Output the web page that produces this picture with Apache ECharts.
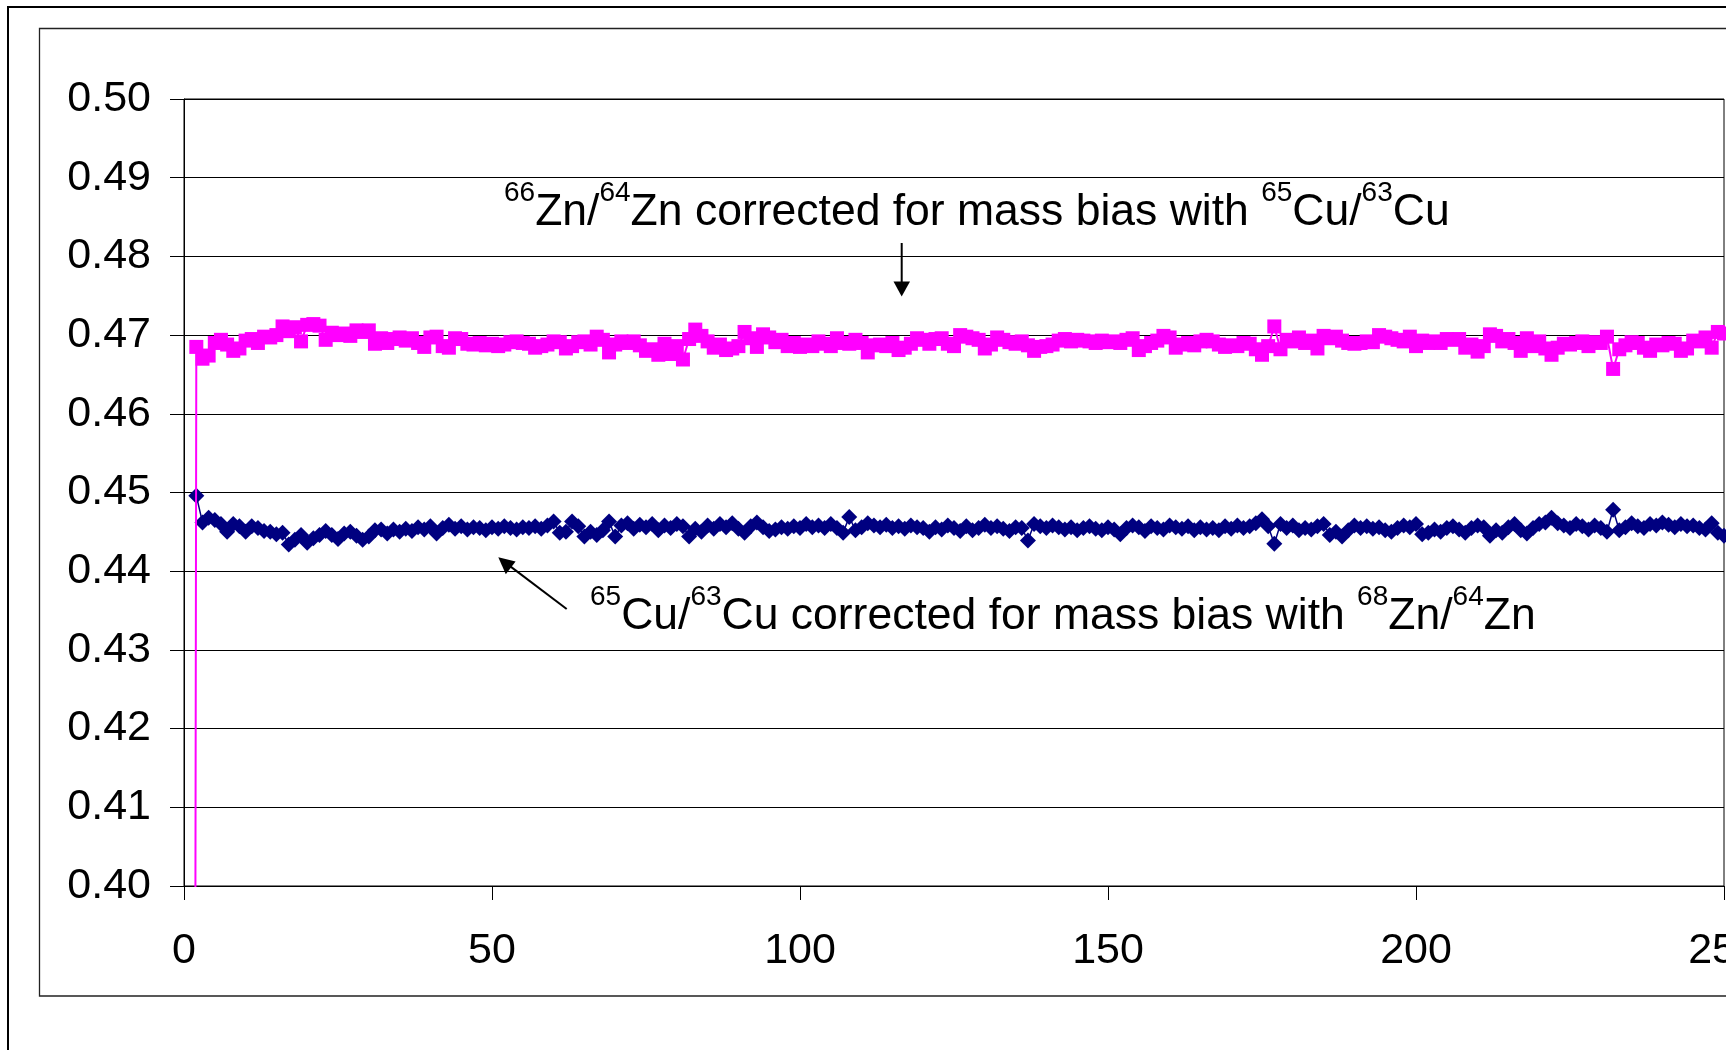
<!DOCTYPE html>
<html>
<head>
<meta charset="utf-8">
<script src="https://cdn.jsdelivr.net/npm/echarts@6/dist/echarts.min.js"></script>
<style>
  html, body { margin: 0; padding: 0; background: #fff; }
  #chart { width: 1726px; height: 1050px; }
</style>
</head>
<body>
<div id="chart"></div>
<script>
// ---- data (run number starts) ----
var pinkStart = 1;   // 66Zn/64Zn series first run
var blueStart = 2;   // 65Cu/63Cu series first run

// 66Zn/64Zn corrected for mass bias with 65Cu/63Cu (runs 1..250)
var znRatio = [
  0.0000,
  0.4685,0.4670,0.4674,0.4690,0.4694,0.4688,0.4680,0.4683,0.4693,0.4695,
  0.4690,0.4698,0.4697,0.4700,0.4711,0.4705,0.4710,0.4692,0.4713,0.4714,
  0.4712,0.4694,0.4703,0.4700,0.4702,0.4699,0.4706,0.4704,0.4706,0.4689,
  0.4696,0.4690,0.4695,0.4697,0.4693,0.4696,0.4690,0.4685,0.4697,0.4698,
  0.4686,0.4684,0.4696,0.4695,0.4689,0.4688,0.4690,0.4687,0.4689,0.4686,
  0.4688,0.4691,0.4692,0.4690,0.4689,0.4684,0.4686,0.4688,0.4692,0.4691,
  0.4683,0.4686,0.4691,0.4692,0.4688,0.4698,0.4694,0.4678,0.4688,0.4692,
  0.4690,0.4692,0.4687,0.4680,0.4682,0.4675,0.4689,0.4676,0.4686,0.4669,
  0.4695,0.4707,0.4699,0.4692,0.4684,0.4688,0.4681,0.4683,0.4686,0.4704,
  0.4696,0.4685,0.4701,0.4697,0.4691,0.4694,0.4686,0.4690,0.4685,0.4688,
  0.4686,0.4692,0.4689,0.4686,0.4696,0.4690,0.4689,0.4694,0.4690,0.4678,
  0.4687,0.4688,0.4686,0.4690,0.4681,0.4684,0.4689,0.4696,0.4694,0.4689,
  0.4695,0.4696,0.4689,0.4686,0.4700,0.4698,0.4696,0.4694,0.4683,0.4688,
  0.4697,0.4694,0.4691,0.4689,0.4692,0.4687,0.4680,0.4685,0.4686,0.4688,
  0.4693,0.4695,0.4692,0.4694,0.4693,0.4692,0.4690,0.4693,0.4691,0.4692,
  0.4690,0.4694,0.4696,0.4681,0.4686,0.4690,0.4693,0.4699,0.4697,0.4684,
  0.4688,0.4690,0.4687,0.4692,0.4694,0.4692,0.4688,0.4685,0.4687,0.4686,
  0.4690,0.4689,0.4682,0.4675,0.4686,0.4711,0.4682,0.4694,0.4692,0.4697,
  0.4690,0.4693,0.4683,0.4699,0.4696,0.4698,0.4693,0.4690,0.4689,0.4690,
  0.4692,0.4691,0.4700,0.4698,0.4696,0.4694,0.4692,0.4698,0.4686,0.4693,
  0.4690,0.4692,0.4690,0.4695,0.4694,0.4695,0.4684,0.4688,0.4679,0.4686,
  0.4701,0.4699,0.4692,0.4695,0.4690,0.4680,0.4696,0.4686,0.4692,0.4683,
  0.4675,0.4684,0.4689,0.4688,0.4690,0.4692,0.4686,0.4691,0.4690,0.4698,
  0.4657,0.4682,0.4687,0.4691,0.4690,0.4684,0.4680,0.4688,0.4687,0.4690,
  0.4689,0.4680,0.4683,0.4693,0.4692,0.4697,0.4684,0.4704,0.4702
];

// 65Cu/63Cu corrected for mass bias with 68Zn/64Zn (runs 2..250)
var cuRatio = [
  0.4496,0.4462,0.4468,0.4465,0.4460,0.4450,0.4460,0.4457,0.4450,0.4457,
  0.4455,0.4451,0.4450,0.4447,0.4449,0.4434,0.4440,0.4446,0.4436,0.4442,
  0.4446,0.4451,0.4446,0.4441,0.4448,0.4450,0.4445,0.4440,0.4444,0.4452,
  0.4453,0.4448,0.4453,0.4450,0.4454,0.4451,0.4456,0.4453,0.4457,0.4448,
  0.4455,0.4459,0.4454,0.4457,0.4453,0.4456,0.4455,0.4452,0.4456,0.4454,
  0.4457,0.4455,0.4453,0.4456,0.4455,0.4457,0.4454,0.4458,0.4463,0.4449,
  0.4450,0.4463,0.4457,0.4444,0.4450,0.4446,0.4452,0.4463,0.4444,0.4458,
  0.4461,0.4454,0.4459,0.4456,0.4460,0.4452,0.4458,0.4455,0.4460,0.4457,
  0.4444,0.4454,0.4450,0.4458,0.4454,0.4460,0.4456,0.4461,0.4454,0.4449,
  0.4457,0.4462,0.4456,0.4451,0.4453,0.4456,0.4454,0.4457,0.4455,0.4460,
  0.4456,0.4458,0.4455,0.4460,0.4455,0.4449,0.4469,0.4452,0.4456,0.4461,
  0.4458,0.4456,0.4459,0.4455,0.4457,0.4454,0.4458,0.4456,0.4455,0.4450,
  0.4456,0.4453,0.4458,0.4455,0.4451,0.4457,0.4452,0.4455,0.4459,0.4455,
  0.4457,0.4454,0.4451,0.4456,0.4455,0.4439,0.4460,0.4457,0.4455,0.4458,
  0.4456,0.4453,0.4456,0.4452,0.4455,0.4457,0.4454,0.4452,0.4456,0.4453,
  0.4447,0.4455,0.4458,0.4456,0.4451,0.4457,0.4455,0.4453,0.4458,0.4456,
  0.4454,0.4457,0.4452,0.4456,0.4453,0.4455,0.4452,0.4457,0.4454,0.4458,
  0.4455,0.4457,0.4461,0.4466,0.4457,0.4435,0.4460,0.4455,0.4458,0.4452,
  0.4455,0.4453,0.4457,0.4460,0.4446,0.4450,0.4444,0.4452,0.4458,0.4455,
  0.4457,0.4454,0.4456,0.4452,0.4450,0.4455,0.4458,0.4456,0.4460,0.4447,
  0.4449,0.4453,0.4450,0.4455,0.4457,0.4453,0.4449,0.4455,0.4458,0.4456,
  0.4445,0.4452,0.4449,0.4456,0.4460,0.4452,0.4448,0.4455,0.4460,0.4462,
  0.4468,0.4461,0.4458,0.4455,0.4460,0.4457,0.4453,0.4458,0.4455,0.4450,
  0.4478,0.4452,0.4456,0.4461,0.4457,0.4455,0.4460,0.4458,0.4462,0.4459,
  0.4456,0.4460,0.4457,0.4458,0.4455,0.4453,0.4461,0.4449,0.4445
];

// axis ticks
var xMin = 0, xMax = 250, xStep = 50;
var yMin = 0.40, yMax = 0.50, yStep = 0.01;

function toPairs(start, vals) {
  var out = [];
  for (var i = 0; i < vals.length; i++) out.push([start + i, vals[i]]);
  return out;
}

var FONT = '"Liberation Sans", Arial, sans-serif';
var chart = echarts.init(document.getElementById('chart'), null, { renderer: 'canvas' });

var richStyle = {
  m: { fontSize: 44.5, fontFamily: FONT, lineHeight: 56, verticalAlign: 'bottom', fill: '#000', color: '#000' },
  s: { fontSize: 28, fontFamily: FONT, lineHeight: 31, verticalAlign: 'top', fill: '#000', color: '#000' }
};

var option = {
  backgroundColor: '#ffffff',
  animation: false,
  grid: {
    left: 184, right: 2, top: 99, bottom: 164,
    containLabel: false, outerBoundsMode: 'none',
    show: true, borderColor: '#000', borderWidth: 1, backgroundColor: 'transparent'
  },
  xAxis: {
    type: 'value', min: xMin, max: xMax, interval: xStep,
    axisLine: { show: true, lineStyle: { color: '#000', width: 1 } },
    axisTick: { show: true, inside: false, length: 14, lineStyle: { color: '#000', width: 1 } },
    axisLabel: { show: true, color: '#000', fontSize: 43, fontFamily: FONT, margin: 44, hideOverlap: false },
    splitLine: { show: false }
  },
  yAxis: {
    type: 'value', min: yMin, max: yMax, interval: yStep,
    axisLine: { show: true, lineStyle: { color: '#000', width: 1 } },
    axisTick: { show: true, inside: false, length: 14, lineStyle: { color: '#000', width: 1 } },
    axisLabel: {
      show: true, color: '#000', fontSize: 43, fontFamily: FONT, margin: 33,
      formatter: function (v) { return v.toFixed(2); }
    },
    splitLine: { show: true, lineStyle: { color: '#000', width: 1 } }
  },
  series: [
    {
      name: 'Cu', type: 'line', data: toPairs(blueStart, cuRatio),
      symbol: 'diamond', symbolSize: 16, showAllSymbol: true,
      lineStyle: { color: '#000080', width: 1.5 },
      itemStyle: { color: '#000080', borderWidth: 0 },
      clip: true, z: 2
    },
    {
      name: 'Zn', type: 'line', data: toPairs(pinkStart, znRatio),
      symbol: 'rect', symbolSize: 14, showAllSymbol: true,
      lineStyle: { color: '#FF00FF', width: 2 },
      itemStyle: { color: '#FF00FF', borderWidth: 0 },
      clip: true, z: 3
    }
  ],
  graphic: [
    { type: 'rect', silent: true, z: -10,
      shape: { x: 8, y: 7, width: 1800, height: 1200 },
      style: { fill: 'none', stroke: '#000', lineWidth: 2 } },
    { type: 'rect', silent: true, z: -10,
      shape: { x: 39.5, y: 28.5, width: 1800, height: 967.5 },
      style: { fill: 'none', stroke: '#222', lineWidth: 1.3 } },
    { type: 'text', silent: true, z: 10, x: 504, y: 179,
      style: {
        text: '{s|66}{m|Zn/}{s|64}{m|Zn corrected for mass bias with }{s|65}{m|Cu/}{s|63}{m|Cu}',
        rich: richStyle, align: 'left', verticalAlign: 'top', fill: '#000'
      } },
    { type: 'text', silent: true, z: 10, x: 590, y: 583,
      style: {
        text: '{s|65}{m|Cu/}{s|63}{m|Cu corrected for mass bias with }{s|68}{m|Zn/}{s|64}{m|Zn}',
        rich: richStyle, align: 'left', verticalAlign: 'top', fill: '#000'
      } },
    // arrow to the Zn series
    { type: 'line', silent: true, z: 10,
      shape: { x1: 901.7, y1: 243, x2: 901.7, y2: 284 },
      style: { stroke: '#000', lineWidth: 2 } },
    { type: 'polygon', silent: true, z: 10,
      shape: { points: [[893.5, 281.5], [910, 281.5], [901.7, 296.5]] },
      style: { fill: '#000' } },
    // arrow to the Cu series
    { type: 'line', silent: true, z: 10,
      shape: { x1: 566.7, y1: 609, x2: 508, y2: 564.6 },
      style: { stroke: '#000', lineWidth: 2 } },
    { type: 'polygon', silent: true, z: 10,
      shape: { points: [[498.3, 557.3], [515.6, 561.5], [505.8, 574.2]] },
      style: { fill: '#000' } }
  ]
};
chart.setOption(option);
</script>
</body>
</html>
